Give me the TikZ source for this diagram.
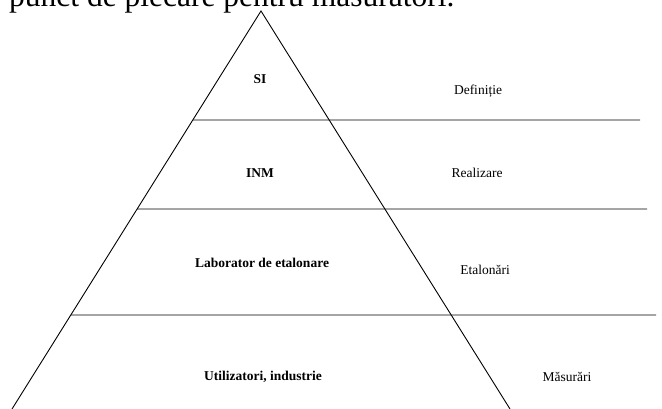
\documentclass[tikz,border=0pt]{standalone}
\usepackage{fontspec}
\setmainfont{Liberation Serif}
\usetikzlibrary{calc}
\begin{document}
\begin{tikzpicture}[x=1pt,y=-1pt,
  edge/.style={line width=0.9pt, black},
  lvl/.style={font=\fontsize{13.5}{16}\selectfont\bfseries, inner sep=0pt},
  role/.style={font=\fontsize{13.5}{16}\selectfont, inner sep=0pt}]
\useasboundingbox (0,0) rectangle (662,409);
\node[anchor=base west, inner sep=0pt, font=\fontsize{31.5}{36}\selectfont] (head) at (9,6.5) {punct de plecare pentru măsurători.};
% pyramid
\coordinate (apex) at (261,11);
\coordinate (bl) at (12,409);
\coordinate (br) at (510,409);
\draw[edge] (bl) -- (apex) -- (br);
% level lines
\coordinate (s1) at ($(apex)!0.2739!(bl)$);
\coordinate (s2) at ($(apex)!0.4975!(bl)$);
\coordinate (s3) at ($(apex)!0.7638!(bl)$);
\coordinate (e1) at (640,120);
\coordinate (e2) at (647,209);
\coordinate (e3) at (656,315);
\draw[edge] (s1) -- (e1);
\draw[edge] (s2) -- (e2);
\draw[edge] (s3) -- (e3);
% labels
\node[lvl] (si) at (260,79) {SI};
\node[lvl] (inm) at (260,173) {INM};
\node[lvl] (lab) at (262,263) {Laborator de etalonare};
\node[lvl] (uti) at (263,377) {Utilizatori, industrie};
\node[role] (def) at (478,91) {Definiție};
\node[role] (rea) at (477,173) {Realizare};
\node[role] (eta) at (485,270) {Etalonări};
\node[role] (mas) at (567,377) {Măsurări};
\end{tikzpicture}
\end{document}
